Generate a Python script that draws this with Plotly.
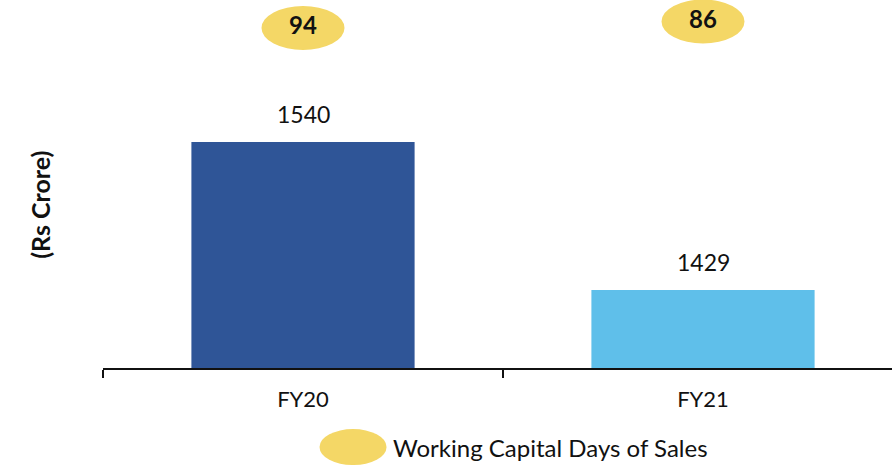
import plotly.graph_objects as go

categories = ["FY20", "FY21"]
values = [1540, 1429]
bar_colors = ["#2F5597", "#5FBFEA"]
days = [94, 86]
legend_label = "Working Capital Days of Sales"
y_title = "(Rs Crore)"

FONT = "Lato"
YELLOW = "#F4D766"

fig = go.Figure()
fig.add_trace(go.Bar(
    x=categories, y=values, marker=dict(color=bar_colors, line=dict(width=0)),
    showlegend=False, hoverinfo="x+y",
))
fig.add_trace(go.Scatter(
    x=categories, y=days, yaxis="y2", mode="text",
    text=[f"<b>{d}</b>" for d in days], textposition="middle center",
    textfont=dict(family=FONT, size=24, color="#111111"),
    showlegend=False,
))

shapes = []
for i, d in enumerate(days):
    shapes.append(dict(
        type="circle", xref="x", yref="y2", xsizemode="pixel", ysizemode="pixel",
        xanchor=i, yanchor=d, x0=-41.5, x1=41.5, y0=-22, y1=22,
        fillcolor=YELLOW, line=dict(width=0), layer="below",
    ))
# legend ellipse
shapes.append(dict(
    type="circle", xref="paper", yref="paper", xsizemode="pixel", ysizemode="pixel",
    xanchor=0.3169, yanchor=-0.2147, x0=-33.5, x1=33.5, y0=-18, y1=18,
    fillcolor=YELLOW, line=dict(width=0),
))

annotations = []
for c, v in zip(categories, values):
    annotations.append(dict(
        x=c, y=v, xref="x", yref="y", text=str(v), showarrow=False,
        yanchor="bottom", yshift=12, font=dict(family=FONT, size=23, color="#111111"),
    ))
annotations.append(dict(
    x=0.365, y=-0.2147, xref="paper", yref="paper", text=legend_label, showarrow=False,
    xanchor="left", yanchor="middle", font=dict(family=FONT, size=24, color="#111111"),
))
annotations.append(dict(
    x=-0.08, y=0.443, xref="paper", yref="paper", text=f"<b>{y_title}</b>", showarrow=False,
    textangle=-90, xanchor="center", yanchor="middle",
    font=dict(family=FONT, size=25, color="#111111"),
))

fig.update_layout(
    width=892, height=465,
    margin=dict(l=103, r=0, t=0, b=97),
    plot_bgcolor="white", paper_bgcolor="white",
    bargap=0.442,
    xaxis=dict(
        type="category", range=[-0.5, 1.4725], showline=True, linecolor="#111111", linewidth=1.5,
        ticks="outside", tickson="boundaries", ticklen=8, tickwidth=1.5, tickcolor="#111111",
        tickfont=dict(family=FONT, size=22, color="#111111"), ticklabelstandoff=11,
        showgrid=False, zeroline=False, fixedrange=True,
    ),
    yaxis=dict(range=[1370.5, 1646.5], visible=False, showgrid=False, zeroline=False),
    yaxis2=dict(range=[512.5, 59.5], overlaying="y", visible=False, showgrid=False, zeroline=False),
    shapes=shapes, annotations=annotations,
    showlegend=False,
)

fig.write_html(
    "out.html",
    config={"displayModeBar": False},
    post_script="document.body.style.margin='0';document.body.style.overflow='hidden';",
)
